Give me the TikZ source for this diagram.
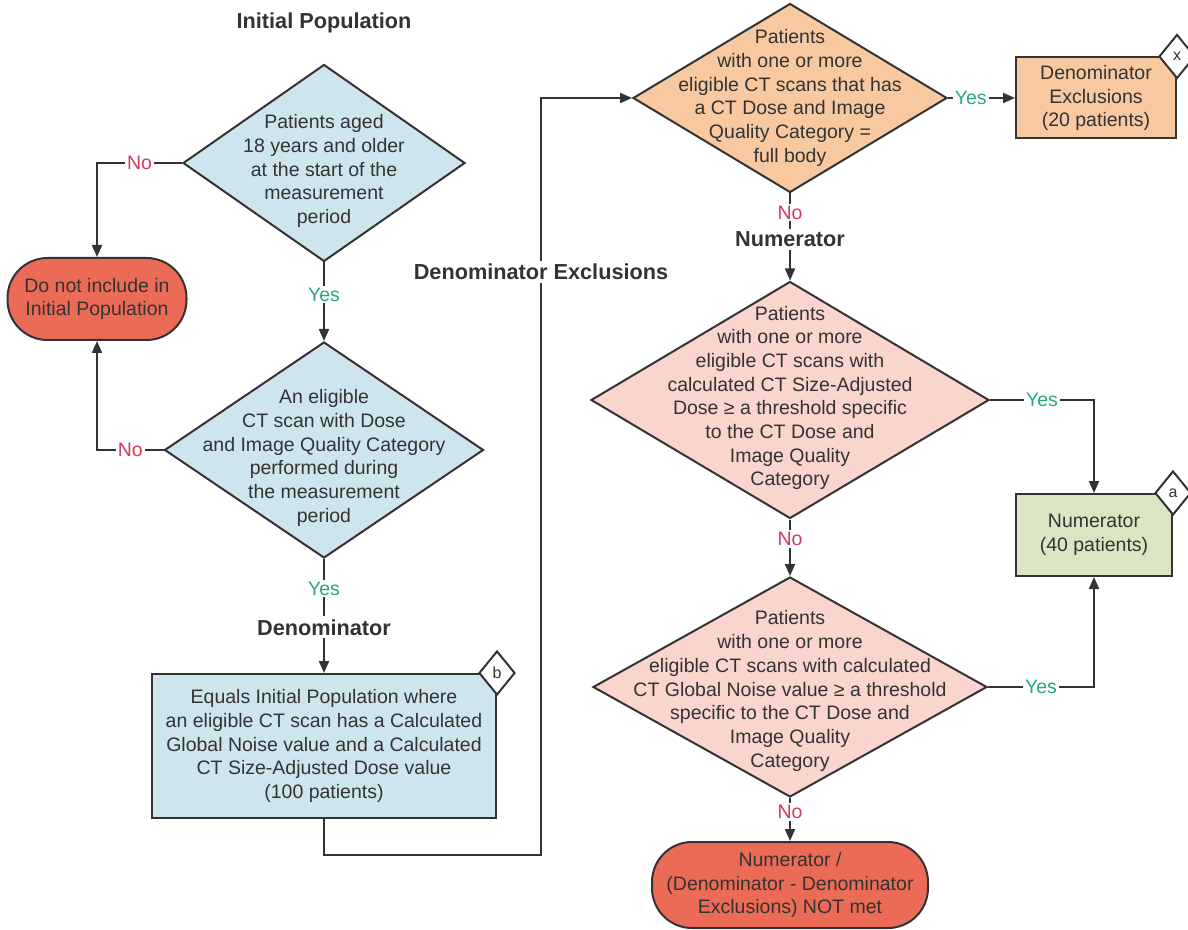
\documentclass[tikz,border=0pt]{standalone}
\usepackage{fontspec}
\setmainfont{Liberation Sans}
\usetikzlibrary{arrows.meta,shapes.geometric}
\definecolor{lineC}{HTML}{333333}
\definecolor{blueF}{HTML}{CFE5EE}
\definecolor{redF}{HTML}{EC6B56}
\definecolor{orangeF}{HTML}{F8C9A0}
\definecolor{pinkF}{HTML}{F9D5CE}
\definecolor{greenF}{HTML}{DAE5C3}
\definecolor{noC}{HTML}{D23A5A}
\definecolor{yesC}{HTML}{2BA585}
\begin{document}
\begin{tikzpicture}[x=0.5pt,y=-0.5pt,
 every node/.style={font=\fontsize{9.75}{11.85}\selectfont, text=lineC},
 dia/.style={diamond, draw=lineC, line width=1pt, inner sep=0pt},
 txt/.style={align=center, inner sep=0pt},
 box/.style={rectangle, draw=lineC, line width=1pt, inner sep=0pt, align=center},
 pill/.style={rectangle, rounded corners=20pt, draw=lineC, line width=1pt, fill=redF, inner sep=0pt, align=center},
 cornermark/.style={diamond, draw=lineC, line width=1pt, fill=white, inner sep=0pt, minimum width=18pt, minimum height=22pt, font=\fontsize{8}{9}\selectfont},
 conn/.style={draw=lineC, line width=1pt},
 arr/.style={conn, -{Triangle[length=6pt,width=5pt]}},
 nolbl/.style={fill=white, text=noC, inner sep=1pt},
 yeslbl/.style={fill=white, text=yesC, inner sep=1pt},
 head/.style={fill=white, font=\bfseries\fontsize{10.85}{13}\selectfont, inner sep=1.5pt},
]
\useasboundingbox (0,0) rectangle (1188,930);

% left column
\node[head] (t1) at (324,23) {Initial Population};
\node[dia, fill=blueF, minimum width=141pt, minimum height=98.5pt] (d1) at (324,163) {};
\node[txt] (d1t) at (324,171) {Patients aged\\18 years and older\\at the start of the\\measurement\\period};
\node[pill, minimum width=89.5pt, minimum height=41pt] (p1) at (97,299) {Do not include in\\Initial Population};
\node[dia, fill=blueF, minimum width=159.5pt, minimum height=108pt] (d2) at (324,450) {};
\node[txt] (d2t) at (324,458) {An eligible\\CT scan with Dose\\and Image Quality Category\\performed during\\the measurement\\period};
\node[box, fill=blueF, minimum width=172pt, minimum height=72pt] (bb) at (324,746) {Equals Initial Population where\\an eligible CT scan has a Calculated\\Global Noise value and a Calculated\\CT Size-Adjusted Dose value\\(100 patients)};
\node[cornermark] (mb) at (bb.north east) {b};

% right column
\node[dia, fill=orangeF, minimum width=157pt, minimum height=94.5pt] (d3) at (790,98) {};
\node[txt] (d3t) at (790,98) {Patients\\with one or more\\eligible CT scans that has\\a CT Dose and Image\\Quality Category =\\full body};
\node[box, fill=orangeF, minimum width=80pt, minimum height=40.5pt] (bx) at (1096,98) {Denominator\\Exclusions\\(20 patients)};
\node[cornermark] (mx) at (bx.north east) {x};

\node[dia, fill=pinkF, minimum width=199pt, minimum height=118.5pt] (d4) at (790,400) {};
\node[txt] (d4t) at (790,398) {Patients\\with one or more\\eligible CT scans with\\calculated CT Size-Adjusted\\Dose ≥ a threshold specific\\to the CT Dose and\\Image Quality\\Category};
\node[box, fill=greenF, minimum width=78pt, minimum height=41pt] (ba) at (1094,535) {Numerator\\(40 patients)};
\node[cornermark] (ma) at (ba.north east) {a};

\node[dia, fill=pinkF, minimum width=197pt, minimum height=110pt] (d5) at (790,687) {};
\node[txt] (d5t) at (790,691) {Patients\\with one or more\\eligible CT scans with calculated\\CT Global Noise value ≥ a threshold\\specific to the CT Dose and\\Image Quality\\Category};
\node[pill, minimum width=138pt, minimum height=43pt] (p2) at (790,885) {Numerator /\\(Denominator - Denominator\\Exclusions) NOT met};

% connectors
\draw[arr] (d1.west) -| node[pos=0.25, nolbl]{No} (p1.north);
\draw[arr] (d1.south) -- node[pos=0.41, yeslbl]{Yes} (d2.north);
\draw[arr] (d2.west) -| node[pos=0.25, nolbl]{No} (p1.south);
\draw[arr] (d2.south) -- node[pos=0.26, yeslbl]{Yes} node[pos=0.6, head]{Denominator} (bb.north);
\coordinate (r1) at (541,855);
\draw[arr] (bb.south) |- (r1) |- node[pos=0.385, head]{Denominator Exclusions} (d3.west);
\draw[arr] (d3.east) -- node[pos=0.34, yeslbl]{Yes} (bx.west);
\draw[arr] (d3.south) -- node[pos=0.22, nolbl]{No} node[pos=0.53, head]{Numerator} (d4.north);
\draw[arr] (d4.east) -| node[pos=0.25, yeslbl]{Yes} (ba.north);
\draw[arr] (d4.south) -- node[pos=0.34, nolbl]{No} (d5.north);
\draw[arr] (d5.east) -| node[pos=0.25, yeslbl]{Yes} (ba.south);
\draw[arr] (d5.south) -- node[pos=0.33, nolbl]{No} (p2.north);
\end{tikzpicture}
\end{document}
